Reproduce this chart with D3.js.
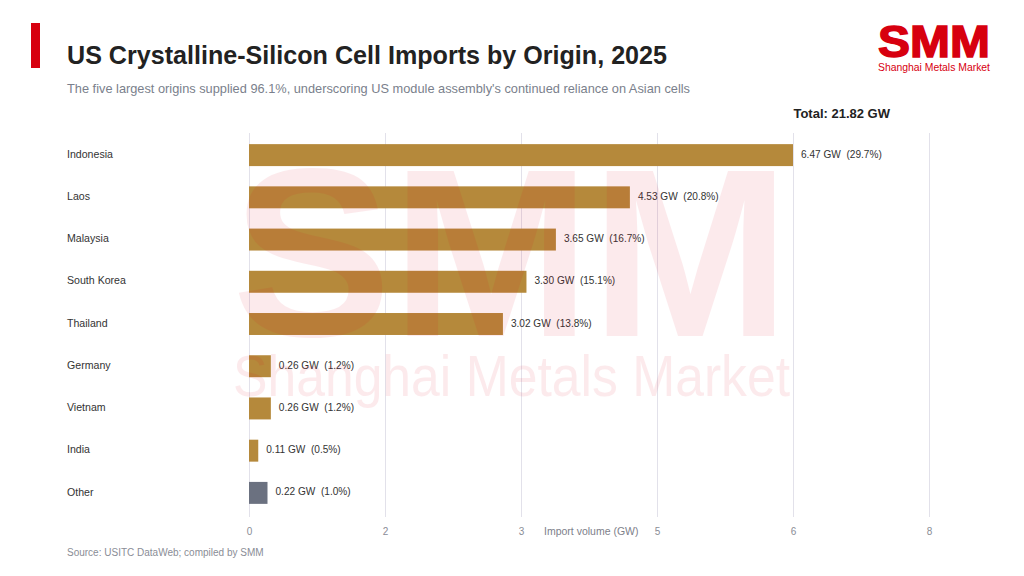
<!DOCTYPE html>
<html>
<head>
<meta charset="utf-8">
<script src="https://cdn.jsdelivr.net/npm/d3@7"></script>
<style>
  html, body { margin: 0; padding: 0; background: #fff; }
  svg { display: block; font-family: "Liberation Sans", Arial, sans-serif; }
</style>
</head>
<body>
<svg id="chart" width="1024" height="576"></svg>
<script>
// data
const origins = ["Indonesia", "Laos", "Malaysia", "South Korea", "Thailand", "Germany", "Vietnam", "India", "Other"];
const volumes = [6.47, 4.53, 3.65, 3.30, 3.02, 0.26, 0.26, 0.11, 0.22];
const shares = [29.7, 20.8, 16.7, 15.1, 13.8, 1.2, 1.2, 0.5, 1.0];
const total = 21.82;

const width = 1024, height = 576;
const margin = { top: 133, right: 95, bottom: 63, left: 249 };

const svg = d3.select("#chart");
const data = origins.map((o, i) => ({ origin: o, value: volumes[i], share: shares[i] }));

const xMax = d3.max(volumes) * 1.25;
const x = d3.scaleLinear()
  .domain([0, xMax])
  .range([margin.left, width - margin.right]);

const y = d3.scaleBand()
  .domain(origins)
  .range([margin.top, height - margin.bottom])
  .paddingInner(0.48)
  .paddingOuter(0.24);

const ticks = d3.range(6).map(i => i * xMax / 5);
const gridBottom = 517;

// gridlines + tick labels
const xAxis = g => g
  .attr("transform", `translate(0,${gridBottom})`)
  .call(d3.axisBottom(x).tickValues(ticks).tickFormat(d3.format(".0f")).tickSize(-(gridBottom - margin.top)).tickPadding(11))
  .call(g => g.select(".domain").remove())
  .call(g => g.selectAll(".tick line").attr("stroke", "#e2e1ea").attr("stroke-width", 1))
  .call(g => g.selectAll(".tick text").attr("fill", "#8a8d96").attr("font-size", 10).attr("font-family", "Liberation Sans, Arial, sans-serif"));

svg.append("g").call(xAxis);

svg.append("text")
  .attr("x", 544).attr("y", 535)
  .attr("font-size", 10.5).attr("fill", "#7d808a")
  .text("Import volume (GW)");

// bars
svg.append("g")
  .selectAll("rect")
  .data(data)
  .join("rect")
  .attr("x", x(0))
  .attr("y", d => y(d.origin) + 1)
  .attr("width", d => x(d.value) - x(0))
  .attr("height", y.bandwidth())
  .attr("fill", d => d.origin === "Other" ? "#6b7180" : "#b5893b");

// category labels
svg.append("g")
  .selectAll("text")
  .data(data)
  .join("text")
  .attr("x", 67)
  .attr("y", d => y(d.origin) + y.bandwidth() / 2)
  .attr("dy", "0.35em")
  .attr("font-size", 10.6)
  .attr("fill", "#333")
  .text(d => d.origin);

// value labels
svg.append("g")
  .selectAll("text")
  .data(data)
  .join("text")
  .attr("x", d => x(d.value) + 8)
  .attr("y", d => y(d.origin) + y.bandwidth() / 2)
  .attr("dy", "0.35em")
  .attr("font-size", 10.1)
  .attr("fill", "#333")
  .style("white-space", "pre")
  .text(d => `${d.value.toFixed(2)} GW  (${d.share.toFixed(1)}%)`);

// watermark
const wm = svg.append("g").attr("pointer-events", "none").attr("fill", "#e0001b").attr("opacity", 0.08);
wm.append("text")
  .attr("x", 232).attr("y", 336)
  .attr("font-size", 240).attr("font-weight", "bold")
  .attr("textLength", 558).attr("lengthAdjust", "spacingAndGlyphs")
  .text("SMM");
wm.append("text")
  .attr("x", 233).attr("y", 396)
  .attr("font-size", 58)
  .attr("textLength", 557).attr("lengthAdjust", "spacingAndGlyphs")
  .text("Shanghai Metals Market");

// header
svg.append("rect").attr("x", 31).attr("y", 23).attr("width", 9).attr("height", 45).attr("fill", "#d7000f");
svg.append("text")
  .attr("x", 67).attr("y", 64)
  .attr("font-size", 25).attr("font-weight", "bold").attr("fill", "#222")
  .attr("textLength", 600).attr("lengthAdjust", "spacingAndGlyphs")
  .text("US Crystalline-Silicon Cell Imports by Origin, 2025");
svg.append("text")
  .attr("x", 67).attr("y", 93)
  .attr("font-size", 12.8).attr("fill", "#7a7f8c")
  .attr("textLength", 623).attr("lengthAdjust", "spacingAndGlyphs")
  .text("The five largest origins supplied 96.1%, underscoring US module assembly's continued reliance on Asian cells");
svg.append("text")
  .attr("x", 890).attr("y", 118)
  .attr("text-anchor", "end")
  .attr("font-size", 13).attr("font-weight", "bold").attr("fill", "#222")
  .text(`Total: ${total.toFixed(2)} GW`);

// logo
svg.append("text")
  .attr("x", 878).attr("y", 57)
  .attr("font-size", 44).attr("font-weight", "bold").attr("fill", "#d7000f")
  .attr("stroke", "#d7000f").attr("stroke-width", 1.5)
  .attr("textLength", 112).attr("lengthAdjust", "spacingAndGlyphs")
  .text("SMM");
svg.append("text")
  .attr("x", 878).attr("y", 71)
  .attr("font-size", 11).attr("fill", "#d7000f")
  .attr("textLength", 112).attr("lengthAdjust", "spacingAndGlyphs")
  .text("Shanghai Metals Market");

// source
svg.append("text")
  .attr("x", 67).attr("y", 556)
  .attr("font-size", 10).attr("fill", "#8a8d96")
  .text("Source: USITC DataWeb; compiled by SMM");
</script>
</body>
</html>
